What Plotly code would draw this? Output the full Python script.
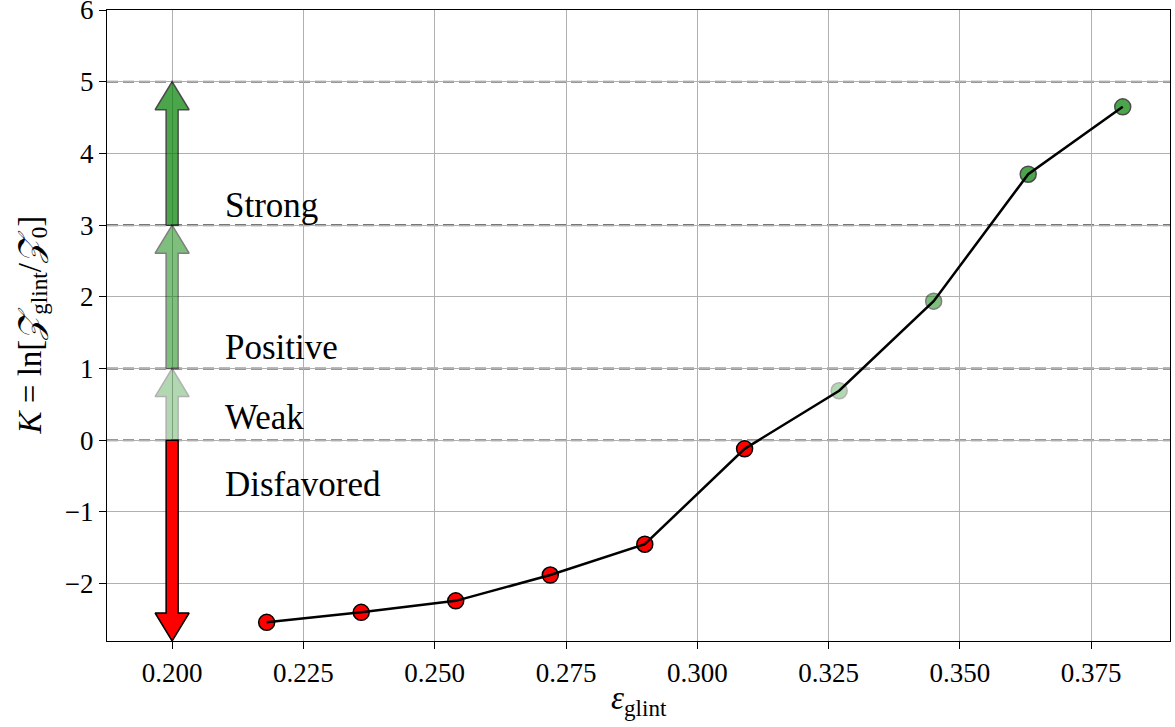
import plotly.graph_objects as go

# Glint efficiency scan and the resulting log Bayes factor
eps_glint = [0.218, 0.236, 0.254, 0.272, 0.290, 0.309, 0.327, 0.345, 0.363, 0.381]
K_values = [-2.54, -2.40, -2.24, -1.88, -1.45, -0.12, 0.69, 1.94, 3.71, 4.65]

# Evidence scale (Jeffreys-like) used for the arrows and the colouring
scale_edges = [0, 1, 3, 5]
category_names = ["Disfavored", "Weak", "Positive", "Strong"]
category_text_y = [-0.62, 0.32, 1.3, 3.28]
category_alpha = [1.0, 0.3, 0.5, 0.7]
category_color = ["red", "green", "green", "green"]
arrow_x = 0.200
arrow_spans = [(0, -2.8), (0, 1), (1, 3), (3, 5)]

x_ticks = [0.200, 0.225, 0.250, 0.275, 0.300, 0.325, 0.350, 0.375]
y_ticks = [-2, -1, 0, 1, 2, 3, 4, 5, 6]
x_range = [0.1876, 0.3900]
y_range = [-2.8, 6.0005]

W, H = 1175, 727
M = dict(l=107, r=5, t=10, b=86)
plot_w = W - M["l"] - M["r"]
plot_h = H - M["t"] - M["b"]
dx_per_px = (x_range[1] - x_range[0]) / plot_w
dy_per_px = (y_range[1] - y_range[0]) / plot_h

SERIF = "Liberation Serif"


def category_of(k):
    if k < scale_edges[0]:
        return 0
    if k < scale_edges[1]:
        return 1
    if k < scale_edges[2]:
        return 2
    return 3


def arrow_polygon(x0, y_start, y_end, shaft_px=6, head_px=17, head_len_px=28):
    d = 1 if y_end > y_start else -1
    sw = shaft_px * dx_per_px
    hw = head_px * dx_per_px
    hl = head_len_px * dy_per_px
    yb = y_end - d * hl
    xs = [x0 - sw, x0 - sw, x0 - hw, x0, x0 + hw, x0 + sw, x0 + sw, x0 - sw]
    ys = [y_start, yb, yb, y_end, yb, yb, y_start, y_start]
    return xs, ys


fig = go.Figure()

# evidence-scale arrows
for i, (y0, y1) in enumerate(arrow_spans):
    xs, ys = arrow_polygon(arrow_x, y0, y1)
    fig.add_trace(go.Scatter(
        x=xs, y=ys, mode="lines", fill="toself",
        fillcolor=category_color[i],
        line=dict(color="black", width=1.5),
        opacity=category_alpha[i],
        hoverinfo="skip", showlegend=False,
    ))

# coloured points by evidence category
cats = [category_of(k) for k in K_values]
fig.add_trace(go.Scatter(
    x=eps_glint, y=K_values, mode="markers",
    marker=dict(
        size=16,
        color=[category_color[c] for c in cats],
        opacity=[category_alpha[c] for c in cats],
        line=dict(color="black", width=1.5),
    ),
    showlegend=False,
))

# connecting line drawn over the markers
fig.add_trace(go.Scatter(
    x=eps_glint, y=K_values, mode="lines",
    line=dict(color="black", width=2.5),
    showlegend=False,
))

# dashed category boundaries
for e in scale_edges:
    fig.add_shape(type="line", xref="paper", x0=0, x1=1, yref="y", y0=e, y1=e,
                  line=dict(color="#777777", width=2.2, dash="11px,5px"), layer="between")

# category labels
for name, ty in zip(category_names, category_text_y):
    fig.add_annotation(x=0.2096, y=ty, text=name, showarrow=False,
                       xanchor="left", yanchor="middle",
                       font=dict(family=SERIF, size=35, color="black"))

# axis titles
fig.add_annotation(xref="paper", yref="paper", x=(32 - M["l"]) / plot_w, y=0.5,
                   text="<i>K</i> = ln[<i>𝒵</i><sub>glint</sub>/<i>𝒵</i><sub>0</sub>]",
                   textangle=-90, showarrow=False, xanchor="center", yanchor="middle",
                   font=dict(family=SERIF, size=33, color="black"))
fig.add_annotation(xref="paper", yref="paper", x=0.5, y=-(700 - M["t"] - plot_h) / plot_h,
                   text="<i>ε</i><sub>glint</sub>",
                   showarrow=False, xanchor="center", yanchor="middle",
                   font=dict(family=SERIF, size=33, color="black"))

axis_common = dict(
    showgrid=True, gridcolor="#b0b0b0", gridwidth=1,
    showline=True, linecolor="black", linewidth=1.3, mirror=True,
    ticks="outside", ticklen=7, tickwidth=1.3, tickcolor="black",
    zeroline=False, ticklabeloverflow="allow", automargin=False,
    tickfont=dict(family=SERIF, size=27, color="black"),
)

fig.update_xaxes(range=x_range, tickvals=x_ticks, tickformat=".3f", **axis_common)
fig.update_yaxes(range=y_range, tickvals=y_ticks, **axis_common)

fig.update_layout(
    width=W, height=H, margin=M,
    plot_bgcolor="white", paper_bgcolor="white",
    showlegend=False,
)

fig.write_html("out.html")
